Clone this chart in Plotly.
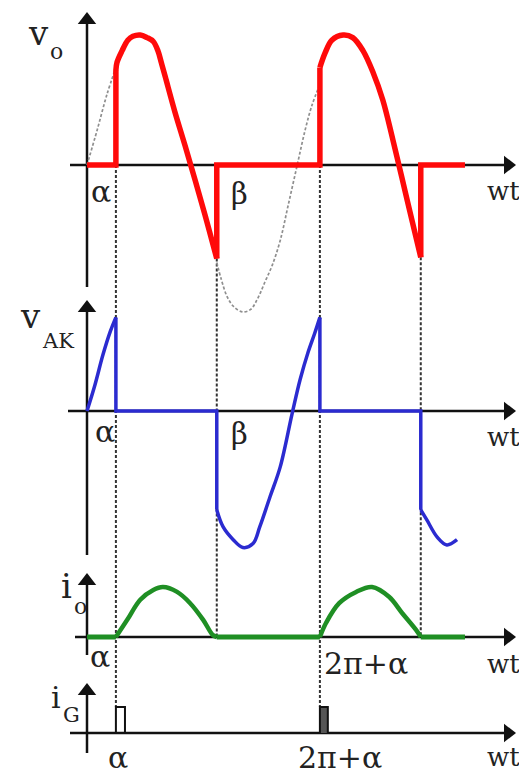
import plotly.graph_objects as go

# ---------------- data (wt in degrees, signals normalised) ----------------
ALPHA = 51          # firing angle
BETA = 229          # extinction angle
PERIOD = 360
WT_END = 667        # end of drawn waveforms

# v_o while the thyristor conducts (first and second cycle)
vo_wt_c1 = [51, 53, 62, 72, 81, 94, 106, 117, 125, 131, 138, 155, 173, 191, 208, 229]
vo_val_c1 = [0.73, 0.79, 0.88, 0.96, 0.99, 1.00, 0.98, 0.95, 0.88, 0.79, 0.68, 0.41, 0.15, -0.12, -0.38, -0.72]
vo_wt_c2 = [411, 420, 432, 452, 469, 487, 505, 522, 540, 565, 589]
vo_val_c2 = [0.75, 0.86, 0.96, 1.00, 0.98, 0.88, 0.71, 0.50, 0.19, -0.27, -0.71]

# source voltage (dotted) where the thyristor is off
vs_wt_a = [0, 18, 35, 51]
vs_val_a = [0.00, 0.27, 0.54, 0.75]
vs_wt_b = [229, 237, 247, 259, 275, 289, 302, 314, 327, 341, 355, 371, 385, 397, 411]
vs_val_b = [-0.75, -0.88, -1.01, -1.09, -1.13, -1.11, -1.02, -0.90, -0.77, -0.58, -0.31, 0.00, 0.27, 0.46, 0.62]

# v_AK (anode-cathode voltage)
vak_wt_1 = [0, 14, 28, 41, 51]
vak_val_1 = [0.00, 0.20, 0.43, 0.61, 0.72]
vak_wt_2 = [229, 240, 258, 275, 293, 305, 323, 341, 362, 376, 390, 402, 411]
vak_val_2 = [-0.76, -0.89, -0.99, -1.05, -1.02, -0.89, -0.66, -0.43, -0.02, 0.24, 0.45, 0.60, 0.72]
vak_wt_3 = [589, 600, 618, 635, 653]
vak_val_3 = [-0.76, -0.84, -0.97, -1.03, -0.99]

# load current i_o
io_wt_1 = [51, 71, 94, 117, 134, 159, 182, 205, 222, 229]
io_val_1 = [0.00, 0.35, 0.76, 0.96, 1.02, 0.92, 0.69, 0.35, 0.04, 0.00]
io_wt_2 = [411, 422, 445, 475, 503, 533, 556, 581, 589]
io_val_2 = [0.00, 0.29, 0.69, 0.92, 1.02, 0.82, 0.49, 0.14, 0.00]

# gate pulses i_G
ig_start = [51, 411]
ig_width = [16, 14]
ig_height = [1.0, 1.0]
ig_filled = [False, True]

# text labels
axis_names = ["v", "v", "i", "i"]
axis_subs = ["o", "AK", "o", "G"]
x_label = "wt"

# ---------------- layout geometry ----------------
W, H = 519, 781
X_ZERO_PX = 87
PX_PER_DEG = 204 / 360
PANEL_ZERO_PX = [165, 411, 637, 733]
PANEL_PX_PER_UNIT = [130, 130, 49, 26]
YREFS = ["y", "y2", "y3", "y4"]

RED = "#ff0a0a"
BLUE = "#2b2bd0"
GREEN = "#1f8f24"
AXIS = "#111111"
TXT = "#222222"
FONT = "DejaVu Serif"


def px_to_deg(px):
    return (px - X_ZERO_PX) / PX_PER_DEG


def py_to_val(k, py):
    return (PANEL_ZERO_PX[k] - py) / PANEL_PX_PER_UNIT[k]


def val_to_paper(k, v):
    py = PANEL_ZERO_PX[k] - v * PANEL_PX_PER_UNIT[k]
    return 1 - py / H


fig = go.Figure()


def add(x, y, k, color, width, shape="linear", dash=None, fill=None, fillcolor=None):
    fig.add_trace(go.Scatter(
        x=x, y=y, yaxis=YREFS[k], mode="lines",
        line=dict(color=color, width=width, shape=shape, dash=dash),
        fill=fill, fillcolor=fillcolor, hoverinfo="skip", showlegend=False,
    ))


# ---- axes (drawn as shapes below the traces) ----
axis_specs = [
    # (vertical bottom px, vertical tip px, horizontal start px)
    (287, 12, 70),
    (555, 300, 68),
    (655, 573, 75),
    (753, 683, 70),
]
X_TIP_PX = 516
HEAD = 16
for k, (vb, vt, hs) in enumerate(axis_specs):
    zp = val_to_paper(k, 0)
    fig.add_shape(type="line", xref="x", yref="paper",
                  x0=0, x1=0, y0=1 - vb / H, y1=1 - (vt + 6) / H,
                  line=dict(color=AXIS, width=2.5), layer="below")
    fig.add_shape(type="line", xref="x", yref="paper",
                  x0=px_to_deg(hs), x1=px_to_deg(X_TIP_PX - 6), y0=zp, y1=zp,
                  line=dict(color=AXIS, width=2.5), layer="below")
    # arrow heads
    fig.add_trace(go.Scatter(
        x=[0], y=[py_to_val(k, vt + HEAD / 2)], yaxis=YREFS[k], mode="markers",
        marker=dict(symbol="triangle-up", size=HEAD, color=AXIS, line=dict(width=0)),
        hoverinfo="skip", showlegend=False))
    fig.add_trace(go.Scatter(
        x=[px_to_deg(X_TIP_PX - HEAD / 2)], y=[0], yaxis=YREFS[k], mode="markers",
        marker=dict(symbol="triangle-right", size=HEAD, color=AXIS, line=dict(width=0)),
        hoverinfo="skip", showlegend=False))

# ---- dashed projection lines ----
proj = [
    (ALPHA, val_to_paper(0, 0), val_to_paper(3, ig_height[0])),
    (BETA, val_to_paper(0, vo_val_c1[-1]), val_to_paper(2, 0)),
    (PERIOD + ALPHA, val_to_paper(0, 0), val_to_paper(3, ig_height[1])),
    (PERIOD + BETA, val_to_paper(0, vo_val_c2[-1]), val_to_paper(2, 0)),
]
for xv, ytop, ybot in proj:
    fig.add_shape(type="line", xref="x", yref="paper", x0=xv, x1=xv, y0=ytop, y1=ybot,
                  line=dict(color="#333333", width=2, dash="3px,2px"), layer="below")

# ---- source voltage (dotted grey) ----
add(vs_wt_a, vs_val_a, 0, "#8f8f8f", 1.7, "spline", "3px,2px")
add(vs_wt_b, vs_val_b, 0, "#8f8f8f", 1.7, "spline", "3px,2px")

# ---- v_o (red) ----
add([0, ALPHA, ALPHA, None, BETA, BETA, PERIOD + ALPHA, PERIOD + ALPHA, None,
     PERIOD + BETA, PERIOD + BETA, WT_END],
    [0, 0, vo_val_c1[0], None, vo_val_c1[-1], 0, 0, vo_val_c2[0], None,
     vo_val_c2[-1], 0, 0], 0, RED, 5.5)
add(vo_wt_c1, vo_val_c1, 0, RED, 5.5, "spline")
add(vo_wt_c2, vo_val_c2, 0, RED, 5.5, "spline")

# ---- v_AK (blue) ----
add([ALPHA, ALPHA, BETA, BETA, None, PERIOD + ALPHA, PERIOD + ALPHA, PERIOD + BETA, PERIOD + BETA],
    [vak_val_1[-1], 0, 0, vak_val_2[0], None, vak_val_2[-1], 0, 0, vak_val_3[0]], 1, BLUE, 3.5)
add(vak_wt_1, vak_val_1, 1, BLUE, 3.5, "spline")
add(vak_wt_2, vak_val_2, 1, BLUE, 3.5, "spline")
add(vak_wt_3, vak_val_3, 1, BLUE, 3.5, "spline")

# ---- i_o (green) ----
add([0, ALPHA, None, BETA, PERIOD + ALPHA, None, PERIOD + BETA, WT_END],
    [0, 0, None, 0, 0, None, 0, 0], 2, GREEN, 5)
add(io_wt_1, io_val_1, 2, GREEN, 4.5, "spline")
add(io_wt_2, io_val_2, 2, GREEN, 4.5, "spline")

# ---- i_G pulses ----
for s, w, h, f in zip(ig_start, ig_width, ig_height, ig_filled):
    add([s, s, s + w, s + w], [0, h, h, 0], 3, AXIS, 2,
        fill="toself" if f else None, fillcolor="#555555" if f else None)

# ---- labels ----
def label(text, xc, yc, size, anchor="center"):
    fig.add_annotation(text=text, xref="paper", yref="paper", x=xc / W, y=1 - yc / H,
                       xanchor=anchor, yanchor="middle", showarrow=False,
                       font=dict(family=FONT, size=size, color=TXT))

name_pos = [(38, 33, 34), (30, 316, 34), (66, 586, 34), (56, 697, 30)]
sub_pos = [(56, 51, 22), (58, 341, 21), (80, 606, 22), (71, 715, 21)]
for t, (x, y, s) in zip(axis_names, name_pos):
    label(t, x, y, s)
for t, (x, y, s) in zip(axis_subs, sub_pos):
    label(t, x, y, s)

for yc in [191, 437, 664, 757]:
    label(x_label, 485, yc, 26, "left")

label("α", 101, 191, 30)
label("β", 239, 194, 29)
label("α", 105, 431, 30)
label("β", 239, 434, 29)
label("α", 100, 656, 30)
label("2π+α", 366, 663, 30)
label("α", 118, 757, 30)
label("2π+α", 340, 757, 30)

# ---- axes setup ----
layout_axes = {}
for k, ref in enumerate(YREFS):
    z, s = PANEL_ZERO_PX[k], PANEL_PX_PER_UNIT[k]
    ax = dict(range=[(z - H) / s, z / s], domain=[0, 1], visible=False, fixedrange=True)
    if k > 0:
        ax.update(overlaying="y", anchor="x")
    layout_axes["yaxis" if k == 0 else f"yaxis{k + 1}"] = ax

fig.update_layout(
    width=W, height=H,
    margin=dict(l=0, r=0, t=0, b=0),
    paper_bgcolor="white", plot_bgcolor="white",
    xaxis=dict(range=[px_to_deg(0), px_to_deg(W)], domain=[0, 1], visible=False, fixedrange=True),
    showlegend=False,
    **layout_axes,
)

fig.write_html("out.html", config={"displayModeBar": False},
               post_script="document.body.style.margin='0';document.body.style.overflow='hidden';")
